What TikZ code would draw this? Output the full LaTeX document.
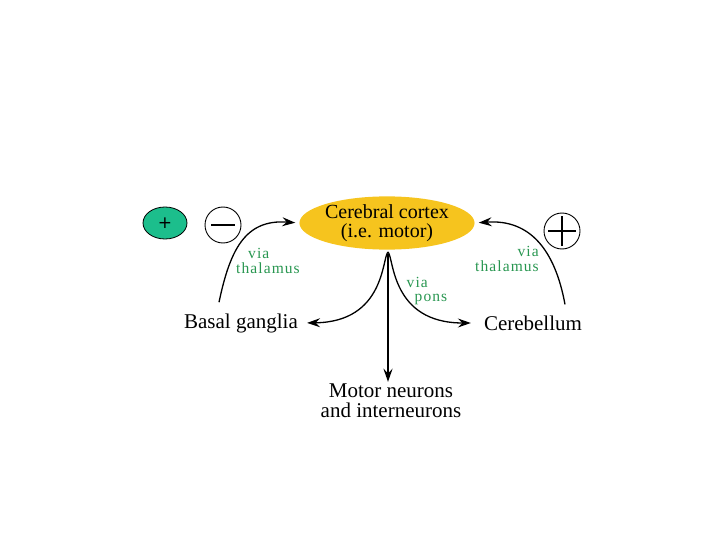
\documentclass[tikz,border=0pt]{standalone}
\usepackage{fontspec}
\setmainfont{Liberation Serif}
\newfontfamily\viafont[LetterSpace=7]{Liberation Serif}
\newfontfamily\signfont{DejaVu Sans}
\usetikzlibrary{shapes.geometric,arrows.meta}
\definecolor{cortexyellow}{RGB}{246,196,30}
\definecolor{signgreen}{RGB}{28,190,140}
\definecolor{viagreen}{RGB}{40,150,80}
\begin{document}
\begin{tikzpicture}[x=1pt,y=-1pt,
  lbl/.style={font=\fontsize{21}{19}\selectfont, inner sep=1pt, align=center},
  via/.style={font=\viafont\fontsize{15.5}{14.5}\selectfont, text=viagreen, inner sep=0pt},
  tip/.style={-{Stealth[length=13pt,width=9pt,inset=4.5pt]}},
  arr/.style={tip, line width=1.3pt},
  signcircle/.style={circle, draw, line width=0.9pt, minimum size=36pt, inner sep=0pt}]
\useasboundingbox (0,0) rectangle (720,540);

% nodes
\node[ellipse, fill=cortexyellow, minimum width=164pt, minimum height=43pt, inner sep=0pt,
      font=\fontsize{20}{19.5}\selectfont, align=center] (cortex) at (387,223) {Cerebral cortex\\(i.e. motor)};
\node[lbl] (bg) at (241,323) {Basal ganglia};
\node[lbl] (cer) at (533,323) {Cerebellum};
\node[lbl, font=\fontsize{21}{20}\selectfont] (motor) at (391,401) {Motor neurons\\and interneurons};

% sign markers
\node[ellipse, draw, line width=0.8pt, fill=signgreen, minimum width=44pt, minimum height=32pt,
      inner sep=0pt, font=\signfont\fontsize{17}{17}\selectfont] (plusgreen) at (165,223) {+};
\node[signcircle] (minus) at (223,225) {};
\draw[line width=2.6pt] ([xshift=-12pt]minus.center) -- ([xshift=12pt]minus.center);
\node[signcircle] (plus) at (562,231) {};
\draw[line width=1.2pt] ([xshift=-14pt]plus.center) -- ([xshift=14pt]plus.center);
\draw[line width=1.2pt] ([yshift=-15pt]plus.center) -- ([yshift=15pt]plus.center);

% connectors
\coordinate (peak) at (388,252);
\draw[arr, shorten >=4pt] ([xshift=-22pt,yshift=10pt]bg.north) .. controls (230,250) and (245,219) .. (cortex.west);
\draw[arr, shorten >=4pt] ([xshift=32pt,yshift=10pt]cer.north) .. controls (555,250) and (530,219) .. (cortex.east);
\draw[arr, shorten >=8pt] (peak) .. controls (382,258) and (385,322) .. (bg.east);
\draw[arr, shorten >=12pt] (peak) .. controls (394,258) and (391,323) .. (cer.west);
\draw[tip, line width=2.4pt, shorten >=1pt] ([yshift=-2pt]peak) -- (peak |- motor.north);

% labels
\node[via, align=left] (vthl) at (268,261) {\hspace{12pt}via\\thalamus};
\node[via, align=right] (vthr) at (507,259) {via\hspace{8pt}\\thalamus};
\node[via, align=left] (vpons) at (427,291) {via\\\hspace{8pt}pons};
\end{tikzpicture}
\end{document}
